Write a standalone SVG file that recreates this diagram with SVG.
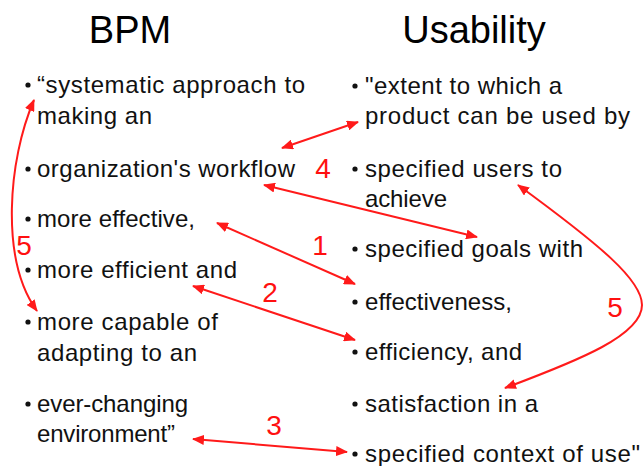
<svg xmlns="http://www.w3.org/2000/svg" width="644" height="466" viewBox="0 0 644 466">
  <style>
    .title { font-family: "Liberation Sans", Arial, sans-serif; font-size: 38px; fill: #000; text-anchor: middle; }
    .item { font-family: "Liberation Sans", Arial, sans-serif; font-size: 24px; fill: #111; }
    .dot { fill: #111; }
    .num { font-family: "Liberation Sans", Arial, sans-serif; font-size: 28px; fill: #ff1010; text-anchor: middle; }
    .link { fill: none; stroke: #ff1a1a; stroke-width: 2; marker-start: url(#head); marker-end: url(#head); }
  </style>
  <defs>
    <marker id="head" viewBox="0 0 12 10" refX="11" refY="5" markerWidth="12" markerHeight="10" markerUnits="userSpaceOnUse" orient="auto-start-reverse">
      <path d="M0,0 L12,5 L0,10 Z" fill="#ff1a1a"/>
    </marker>
  </defs>

  <rect width="644" height="466" fill="#fff"/>

  <!-- BPM column -->
  <g id="bpm">
    <text class="title" x="130" y="43">BPM</text>
    <g id="bpm-1">
      <circle class="dot" cx="28" cy="85" r="2.6"/>
      <text class="item" x="37" y="93" textLength="268" lengthAdjust="spacing">“systematic approach to</text>
      <text class="item" x="37" y="124" textLength="115" lengthAdjust="spacing">making an</text>
    </g>
    <g id="bpm-2">
      <circle class="dot" cx="28" cy="169" r="2.6"/>
      <text class="item" x="37" y="177" textLength="258" lengthAdjust="spacing">organization's workflow</text>
    </g>
    <g id="bpm-3">
      <circle class="dot" cx="28" cy="219" r="2.6"/>
      <text class="item" x="37" y="227" textLength="158" lengthAdjust="spacing">more effective,</text>
    </g>
    <g id="bpm-4">
      <circle class="dot" cx="28" cy="270" r="2.6"/>
      <text class="item" x="37" y="278" textLength="200" lengthAdjust="spacing">more efficient and</text>
    </g>
    <g id="bpm-5">
      <circle class="dot" cx="28" cy="322" r="2.6"/>
      <text class="item" x="37" y="330" textLength="181" lengthAdjust="spacing">more capable of</text>
      <text class="item" x="37" y="361" textLength="160" lengthAdjust="spacing">adapting to an</text>
    </g>
    <g id="bpm-6">
      <circle class="dot" cx="28" cy="404" r="2.6"/>
      <text class="item" x="37" y="412" textLength="151" lengthAdjust="spacing">ever-changing</text>
      <text class="item" x="37" y="442" textLength="138" lengthAdjust="spacing">environment”</text>
    </g>
  </g>

  <!-- Usability column -->
  <g id="usability">
    <text class="title" x="474" y="43">Usability</text>
    <g id="use-1">
      <circle class="dot" cx="355" cy="86" r="2.6"/>
      <text class="item" x="365" y="94" textLength="197" lengthAdjust="spacing">"extent to which a</text>
      <text class="item" x="365" y="124" textLength="265" lengthAdjust="spacing">product can be used by</text>
    </g>
    <g id="use-2">
      <circle class="dot" cx="355" cy="169" r="2.6"/>
      <text class="item" x="365" y="177" textLength="197" lengthAdjust="spacing">specified users to</text>
      <text class="item" x="365" y="207" textLength="82" lengthAdjust="spacing">achieve</text>
    </g>
    <g id="use-3">
      <circle class="dot" cx="355" cy="249" r="2.6"/>
      <text class="item" x="365" y="257" textLength="218" lengthAdjust="spacing">specified goals with</text>
    </g>
    <g id="use-4">
      <circle class="dot" cx="355" cy="302" r="2.6"/>
      <text class="item" x="365" y="310" textLength="147" lengthAdjust="spacing">effectiveness,</text>
    </g>
    <g id="use-5">
      <circle class="dot" cx="355" cy="352" r="2.6"/>
      <text class="item" x="365" y="360" textLength="157" lengthAdjust="spacing">efficiency, and</text>
    </g>
    <g id="use-6">
      <circle class="dot" cx="355" cy="404" r="2.6"/>
      <text class="item" x="365" y="412" textLength="173" lengthAdjust="spacing">satisfaction in a</text>
    </g>
    <g id="use-7">
      <circle class="dot" cx="355" cy="454" r="2.6"/>
      <text class="item" x="365" y="462" textLength="275" lengthAdjust="spacing">specified context of use"</text>
    </g>
  </g>

  <!-- connectors between the two definitions -->
  <g id="connectors">
    <path class="link" d="M282,148 L358,122"/>
    <path class="link" d="M264,185 L477,237"/>
    <path class="link" d="M217,223 L355,284"/>
    <path class="link" d="M193,286 L355,340"/>
    <path class="link" d="M193,439 L347,452"/>
    <path class="link" d="M34,100 C8,160 0,260 37,311"/>
    <path class="link" d="M518,185 C600,245 642,280 642,305 C642,335 580,360 505,388"/>
  </g>

  <!-- connector numbers -->
  <g id="labels">
    <text class="num" x="323" y="178">4</text>
    <text class="num" x="320" y="255">1</text>
    <text class="num" x="270" y="302">2</text>
    <text class="num" x="274" y="435">3</text>
    <text class="num" x="24" y="255">5</text>
    <text class="num" x="615" y="317">5</text>
  </g>
</svg>
